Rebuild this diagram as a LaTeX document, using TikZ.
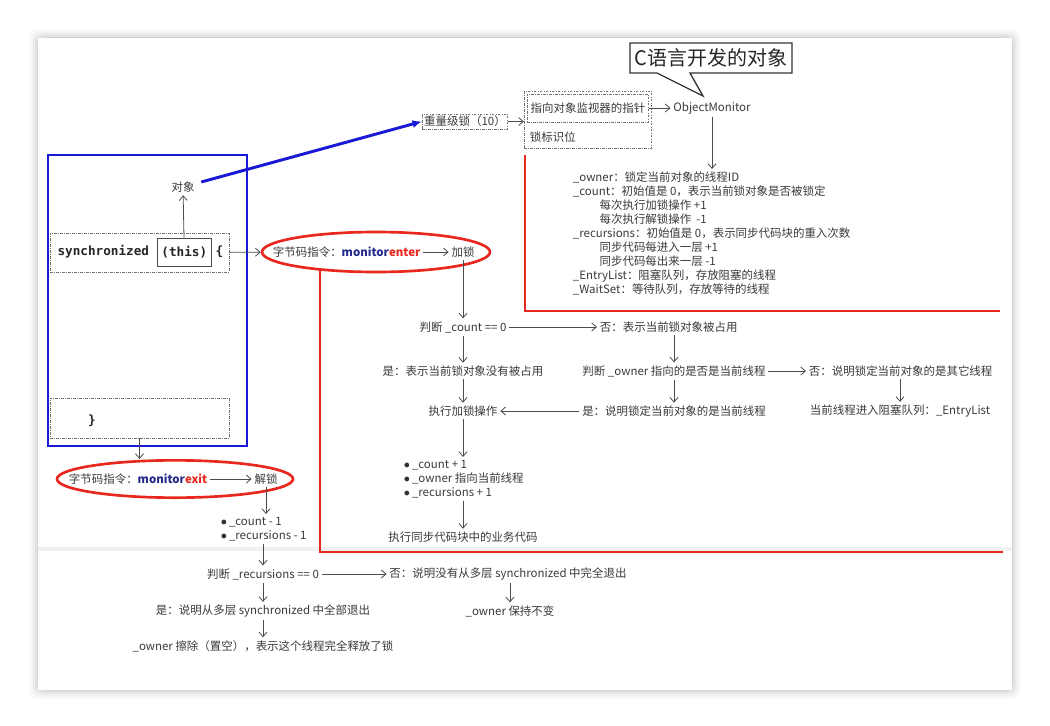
\documentclass[tikz,border=0pt]{standalone}
\usepackage{fontspec}
\setmainfont{Noto Sans CJK SC}
\newfontfamily\codefont{DejaVu Sans Mono}
\usetikzlibrary{arrows.meta,positioning,fit,shapes.geometric}
\definecolor{Ink}{HTML}{3A3A3A}
\definecolor{Navy}{HTML}{232B8C}
\definecolor{Alert}{HTML}{E8281E}
\definecolor{Royal}{HTML}{1A1AD6}
\newcommand\dotmark{\textcolor{black!80}{$\bullet$}}

\begin{document}
\begin{tikzpicture}[x=0.75pt,y=-0.75pt,
  txt/.style={text=Ink,font=\fontsize{8.6}{10.5}\selectfont,inner sep=2pt},
  code/.style={text=black!85,font=\codefont\bfseries\fontsize{9.5}{11}\selectfont,inner sep=1pt},
  dashbox/.style={draw=black!55,dash pattern=on 2pt off 1pt on .5pt off 1pt,line width=.6pt},
  ring/.style={draw=Alert,line width=2pt,ellipse,inner sep=0pt},
  redline/.style={draw=Alert,line width=2pt},
  arrow/.style={-{Straight Barb[length=3.5pt,width=6pt]},draw=black!70,line width=.6pt}]
\useasboundingbox (0,0) rectangle (1050,725);
% page and shadow
\fill[white] (0,0) rectangle (1050,725);
\foreach \d/\o in {9/.02,7/.025,5/.03,3/.04,1/.05}
  \fill[black,opacity=\o,rounded corners=6pt] ({38-\d},{38-\d}) rectangle ({1012+\d},{690+\d});
\fill[white] (38,38) rectangle (1012,690);
\fill[black!6] (38,547) rectangle (1012,551);
% code block
\draw[draw=Royal,line width=2.2pt] (48,155) rectangle (247,446);
\node[dashbox,fit={(50,233)(229,272)},inner sep=0pt](syncbox){};
\node[code,anchor=west](syncword) at (56,252){synchronized};
\node[code,draw=black!70,line width=.6pt,inner sep=3pt,minimum height=21pt,anchor=west](thisref) at (157,252){(this)};
\node[code,anchor=west](lbrace) at (214,252){\{};
\node[dashbox,fit={(50,398)(229,438)},inner sep=0pt](closebox){};
\node[code](rbrace) at (92,421){\}};
\node[txt](objref) at (183,187){对象};
\draw[arrow](thisref)--(objref);
% monitorenter
\node[ring,minimum width=171pt,minimum height=30pt](enterring) at (376,252){};
\node[txt,anchor=west](enterop) at (270,252){字节码指令：\textbf{\textcolor{Navy}{monitor}\textcolor{Alert}{enter}}};
\node[txt](lockop) at (463,252){加锁};
\draw[arrow](syncbox)--(enterring);\draw[arrow](enterop)--(lockop);
\draw[redline](320,270)--(320,552)--(1003,552);
\draw[redline](525,155)--(525,311)--(1000,311);
% object header
\node[txt,dashbox,inner sep=1.5pt](heavy) at (465,121.5){重量级锁（10）};
\draw[Royal,line width=2.2pt,-{Latex[length=7pt,width=6pt]},shorten <=3pt](objref)--(heavy.west);
\node[txt,dashbox,minimum width=91pt,minimum height=21pt,inner sep=0pt](ptr) at (588,108){指向对象监视器的指针};
\node[txt,anchor=west](flag) at (527,137){锁标识位};
\node[dashbox,fit=(ptr)(flag),inner sep=2pt](markword){};
\draw[arrow](heavy.east)--(heavy.east -| markword.west);
\node[txt](monitor) at (712,108){ObjectMonitor};
\draw[arrow](ptr)--(monitor);
\draw[draw=black!80,line width=1pt,fill=white](630,43)--(792,43)--(792,73)--(690,73)--(703,96)--(657,73)--(630,73)--cycle;
\node[text=black!85,font=\fontsize{15}{18}\selectfont](cnote) at (711,58){C语言开发的对象};
\node[txt,anchor=north west,align=left](fields) at (570,169){\_owner：锁定当前对象的线程ID\\
  \_count：初始值是 0，表示当前锁对象是否被锁定\\
  \hspace*{20pt}每次执行加锁操作 +1\\
  \hspace*{20pt}每次执行解锁操作 ~-1\\
  \_recursions：初始值是 0，表示同步代码块的重入次数\\
  \hspace*{20pt}同步代码每进入一层 +1\\
  \hspace*{20pt}同步代码每出来一层 -1\\
  \_EntryList：阻塞队列，存放阻塞的线程\\
  \_WaitSet：等待队列，存放等待的线程};
\draw[arrow](monitor)--(monitor |- fields.north);
% lock flow
\node[txt](cntcheck) at (463,327){判断 \_count == 0};
\node[txt,anchor=west](cntbusy) at (597,327){否：表示当前锁对象被占用};
\node[txt](cntfree) at (463,371){是：表示当前锁对象没有被占用};
\node[txt](ownercheck) at (674,371){判断 \_owner 指向的是否是当前线程};
\node[txt,anchor=west](otherthr) at (806,371){否：说明锁定当前对象的是其它线程};
\node[txt](samethr) at (674,411){是：说明锁定当前对象的是当前线程};
\node[txt](entryq) at (900,411){当前线程进入阻塞队列：\_EntryList};
\node[txt](dolock) at (463,411){执行加锁操作};
\draw[arrow](lockop)--(cntcheck);\draw[arrow](cntcheck)--(cntbusy);\draw[arrow](cntcheck)--(cntfree);
\draw[arrow](cntbusy.south -| ownercheck)--(ownercheck);\draw[arrow](ownercheck)--(otherthr);
\draw[arrow](ownercheck)--(samethr);\draw[arrow](otherthr.south -| entryq)--(entryq);
\draw[arrow](cntfree)--(dolock);\draw[arrow](samethr)--(dolock);
\node[txt,anchor=north west,align=left](incr) at (401,457){\dotmark\,\_count + 1\\ \dotmark\,\_owner 指向当前线程\\ \dotmark\,\_recursions + 1};
\node[txt](bizcode) at (463,537){执行同步代码块中的业务代码};
\draw[arrow](dolock)--(dolock |- incr.north);\draw[arrow](incr.south -| bizcode)--(bizcode);
% unlock flow
\node[ring,minimum width=177pt,minimum height=28pt](exitring) at (175,479){};
\node[txt,anchor=west](exitop) at (66,479){字节码指令：\textbf{\textcolor{Navy}{monitor}\textcolor{Alert}{exit}}};
\node[txt](unlockop) at (266,479){解锁};
\draw[arrow](closebox.south)--(closebox.south |- exitring.north);\draw[arrow](exitop)--(unlockop);
\node[txt,anchor=north west,align=left](decr) at (218,514){\dotmark\,\_count - 1\\ \dotmark\,\_recursions - 1};
\node[txt](reccheck) at (263,574){判断 \_recursions == 0};
\node[txt](notall) at (508,574){否：说明没有从多层 synchronized 中完全退出};
\node[txt](keepowner) at (510,611){\_owner 保持不变};
\node[txt](allout) at (263,611){是：说明从多层 synchronized 中全部退出};
\node[txt](clearowner) at (263,646){\_owner 擦除（置空），表示这个线程完全释放了锁};
\draw[arrow](unlockop)--(unlockop |- decr.north);\draw[arrow](decr.south -| reccheck)--(reccheck);
\draw[arrow](reccheck)--(notall);\draw[arrow](notall.south -| keepowner)--(keepowner);
\draw[arrow](reccheck)--(allout);\draw[arrow](allout)--(clearowner);
\end{tikzpicture}
\end{document}
